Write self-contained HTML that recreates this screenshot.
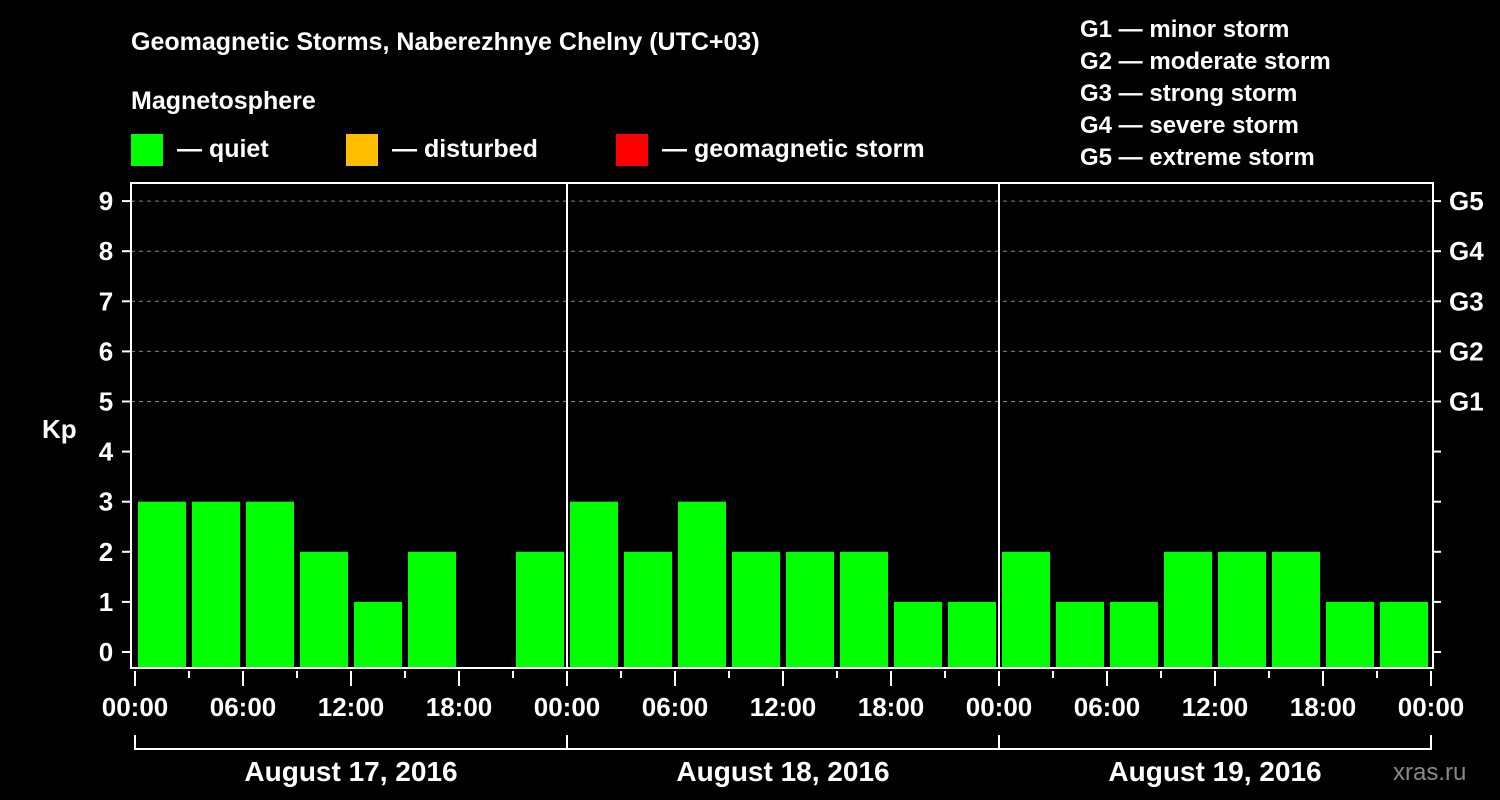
<!DOCTYPE html>
<html><head><meta charset="utf-8"><style>
body{margin:0;background:#000;width:1500px;height:800px;overflow:hidden}
svg{display:block;font-family:"Liberation Sans",Arial,sans-serif;font-weight:bold}
</style></head><body>
<svg id="c" width="1500" height="800" xmlns="http://www.w3.org/2000/svg">
<text x="131" y="50" fill="#fff" font-size="25">Geomagnetic Storms, Naberezhnye Chelny (UTC+03)</text>
<text x="131" y="109" fill="#fff" font-size="25">Magnetosphere</text>
<g><rect x="131" y="134" width="32" height="32" fill="#00ff00"/><text x="177" y="157" fill="#fff" font-size="25">— quiet</text></g>
<g><rect x="346" y="134" width="32" height="32" fill="#ffbf00"/><text x="392" y="157" fill="#fff" font-size="25">— disturbed</text></g>
<g><rect x="616" y="134" width="32" height="32" fill="#ff0000"/><text x="662" y="157" fill="#fff" font-size="25">— geomagnetic storm</text></g>
<g fill="#fff" font-size="24">
<text x="1080" y="37">G1 — minor storm</text>
<text x="1080" y="69">G2 — moderate storm</text>
<text x="1080" y="101">G3 — strong storm</text>
<text x="1080" y="133">G4 — severe storm</text>
<text x="1080" y="165">G5 — extreme storm</text>
</g>
<text x="42" y="438" fill="#fff" font-size="26">Kp</text>
<text x="1393" y="780" fill="#888" font-size="24" font-weight="normal">xras.ru</text>
<g id="grid"></g><g id="bars"></g><g id="axes"></g>
</svg>
<script>
const kpValues=[3,3,3,2,1,2,0,2, 3,2,3,2,2,2,1,1, 2,1,1,2,2,2,1,1];
const yTicks=[0,1,2,3,4,5,6,7,8,9];
const gLabels=["G1","G2","G3","G4","G5"];
const gLevels=[5,6,7,8,9];
const xLabels=["00:00","06:00","12:00","18:00","00:00","06:00","12:00","18:00","00:00","06:00","12:00","18:00","00:00"];
const dayLabels=["August 17, 2016","August 18, 2016","August 19, 2016"];
const NS="http://www.w3.org/2000/svg";
const L=131,R=1433,T=183,B=668,X0=135,SLOT=54;
const y=v=>652-50.1*v;
const x=i=>X0+i*SLOT;
function mk(tag,attrs,parent,txt){const e=document.createElementNS(NS,tag);for(const k in attrs)e.setAttribute(k,attrs[k]);if(txt!==undefined)e.textContent=txt;parent.appendChild(e);return e;}
const grid=document.getElementById('grid'),bars=document.getElementById('bars'),axes=document.getElementById('axes');
gLevels.forEach((lv,i)=>{
  const l=mk('line',{x1:L,x2:R,y1:y(lv),y2:y(lv),stroke:'#888','stroke-dasharray':'4,4','stroke-width':1},grid);
  
  
  const t=mk('text',{x:1449,y:y(lv)+9,fill:'#fff','font-size':26},axes,gLabels[i]);
  
  
});
kpValues.forEach((v,i)=>{
  if(v<=0)return;
  const r=mk('rect',{x:x(i)+3,y:y(v),width:48,height:B-y(v),fill:v>=5?'#ff0000':(v>=4?'#ffbf00':'#00ff00')},bars);
  
  
});
mk('rect',{x:L,y:T,width:R-L,height:B-T,fill:'none',stroke:'#fff','stroke-width':2},axes);
[1,2].forEach(d=>{mk('line',{x1:x(d*8),x2:x(d*8),y1:T,y2:B,stroke:'#fff','stroke-width':2},axes);});
yTicks.forEach(v=>{
  mk('line',{x1:122,x2:L,y1:y(v),y2:y(v),stroke:'#fff','stroke-width':2},axes);
  mk('line',{x1:R,x2:1441,y1:y(v),y2:y(v),stroke:'#fff','stroke-width':2},axes);
  const t=mk('text',{x:106,y:y(v)+9,fill:'#fff','font-size':26,'text-anchor':'middle'},axes,String(v));
  
  
});
for(let i=0;i<=24;i++){
  const major=i%2===0;
  mk('line',{x1:x(i),x2:x(i),y1:671,y2:major?686:678,stroke:'#fff','stroke-width':2},axes);
}
xLabels.forEach((s,i)=>{
  const t=mk('text',{x:x(i*2),y:716,fill:'#fff','font-size':26,'text-anchor':'middle'},axes,s);
  
  
});
mk('polyline',{points:`${x(0)},735 ${x(0)},749 ${x(24)},749 ${x(24)},735`,fill:'none',stroke:'#fff','stroke-width':2},axes);
[1,2].forEach(d=>mk('line',{x1:x(d*8),x2:x(d*8),y1:735,y2:749,stroke:'#fff','stroke-width':2},axes));
dayLabels.forEach((s,d)=>{
  const t=mk('text',{x:x(d*8+4),y:781,fill:'#fff','font-size':28,'text-anchor':'middle'},axes,s);
  
  
});
</script>
</body></html>
